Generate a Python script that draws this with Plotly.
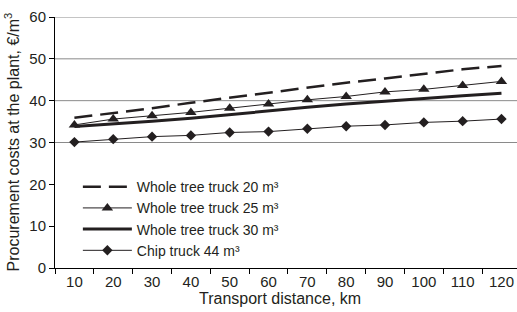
import plotly.graph_objects as go

distance = ["10", "20", "30", "40", "50", "60", "70", "80", "90", "100", "110", "120"]
truck20 = [35.9, 37.0, 38.2, 39.5, 40.7, 41.9, 43.1, 44.3, 45.3, 46.4, 47.5, 48.3]
truck25 = [34.2, 35.6, 36.4, 37.2, 38.2, 39.2, 40.2, 41.0, 42.1, 42.7, 43.6, 44.6]
truck30 = [33.8, 34.4, 35.1, 35.8, 36.7, 37.5, 38.4, 39.2, 39.9, 40.6, 41.2, 41.8]
chip44 = [30.1, 30.8, 31.4, 31.7, 32.4, 32.6, 33.3, 33.9, 34.2, 34.8, 35.1, 35.6]
names = ["Whole tree truck 20 m³", "Whole tree truck 25 m³",
         "Whole tree truck 30 m³", "Chip truck 44 m³"]
y_ticks = [0, 10, 20, 30, 40, 50, 60]
grid_values = [30, 40, 50, 60]

ink = "#231f20"
font = "Liberation Sans, Arial, sans-serif"

fig = go.Figure()
for g in grid_values:
    fig.add_hline(y=g, line=dict(color="#8a8a8a", width=1), layer="below")

fig.add_trace(go.Scatter(x=distance, y=truck20, name=names[0], mode="lines",
                         line=dict(color=ink, width=2.5, dash="18px,8px")))
fig.add_trace(go.Scatter(x=distance, y=truck25, name=names[1], mode="lines+markers",
                         line=dict(color=ink, width=1),
                         marker=dict(symbol="triangle-up", size=10, color=ink)))
fig.add_trace(go.Scatter(x=distance, y=truck30, name=names[2], mode="lines",
                         line=dict(color=ink, width=3)))
fig.add_trace(go.Scatter(x=distance, y=chip44, name=names[3], mode="lines+markers",
                         line=dict(color=ink, width=1),
                         marker=dict(symbol="diamond", size=8, color=ink)))

fig.update_layout(
    width=517, height=312,
    margin=dict(l=55, r=0, t=17, b=44),
    paper_bgcolor="white", plot_bgcolor="white",
    font=dict(family=font, size=15, color=ink),
    showlegend=True,
    legend=dict(x=0.0495, y=0.386, xanchor="left", yanchor="top",
                bgcolor="rgba(0,0,0,0)", font=dict(size=14, color=ink),
                tracegroupgap=0, itemwidth=49),
)
fig.update_xaxes(type="category", range=[-0.5, 11.4],
                 showline=True, linecolor="black", linewidth=1,
                 ticks="outside", ticklen=5, tickcolor="black",
                 tickson="boundaries", showgrid=False,
                 tickfont=dict(size=15, color=ink))
fig.update_yaxes(range=[0, 60], tickvals=y_ticks,
                 showline=True, linecolor="black", linewidth=1,
                 ticks="outside", ticklen=5, tickcolor="black",
                 showgrid=False, zeroline=False, tickfont=dict(size=15, color=ink))

fig.add_annotation(text="Procurement costs at the plant, €/m<sup>3</sup>", textangle=-90,
                   xref="paper", yref="paper", x=-0.091, y=0.504,
                   xanchor="center", yanchor="middle", showarrow=False,
                   font=dict(size=16, color=ink))
fig.add_annotation(text="Transport distance, km", xref="paper", yref="paper",
                   x=0.488, y=-0.12, xanchor="center", yanchor="middle",
                   showarrow=False, font=dict(size=16, color=ink))

fig.write_html("out.html", config={"displayModeBar": False},
               post_script="document.body.style.margin='0';")
